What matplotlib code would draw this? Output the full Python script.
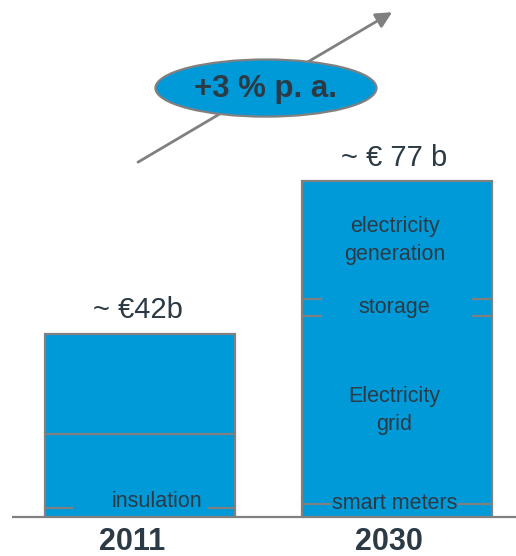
import numpy as np
import matplotlib.pyplot as plt
from matplotlib.patches import Ellipse

# --- data -------------------------------------------------------------
years = ["2011", "2030"]
total_labels = ["~ €42b", "~ € 77 b"]
seg_2011 = [2, 17, 23]          # insulation, (unlabelled), (unlabelled)
seg_2030 = [3, 43, 4, 27]       # smart meters, grid, storage, generation
labels_2030 = ["smart meters", "Electricity\ngrid", "storage", "electricity\ngeneration"]
growth_text = "+3 % p. a."

# --- style ------------------------------------------------------------
BLUE = "#009ad9"
GREY = "#808080"
INK = "#2b3a44"
plt.rcParams["font.family"] = ["Liberation Sans", "DejaVu Sans"]

fig = plt.figure(figsize=(5.16, 5.56), dpi=100)
ax = fig.add_axes([0, 39 / 556, 1, 517 / 556])
ax.set_xlim(-0.545, 1.463)
ax.set_ylim(0, 118.6)
ax.axis("off")

width = 0.74
x = np.arange(len(years))

def stacked(xi, segs):
    bottom = 0
    for v in segs:
        ax.bar(xi, v, bottom=bottom, width=width, color=BLUE, lw=0, zorder=2)
        bottom += v
    ax.bar(xi, bottom, width=width, fill=False, edgecolor=GREY, lw=1.6, zorder=4)
    return np.cumsum(segs)

def sep(xi, y, tick=None):
    left, right = xi - width / 2, xi + width / 2
    if tick is None:
        ax.hlines(y, left, right, color=GREY, lw=1.6, zorder=3)
    else:
        ax.hlines(y, left, left + tick, color=GREY, lw=1.6, zorder=3)
        ax.hlines(y, right - tick, right, color=GREY, lw=1.6, zorder=3)

# 2011
b11 = stacked(x[0], seg_2011)
sep(x[0], b11[0], tick=0.109)
sep(x[0], b11[1])
ax.text(x[0] + 0.066, b11[0] + 0.4, "insulation", ha="center", va="baseline",
        fontsize=15.5, color=INK, zorder=5)

# 2030
b30 = stacked(x[1], seg_2030)
sep(x[1], b30[0])
sep(x[1], b30[1], tick=0.078)
sep(x[1], b30[2], tick=0.078)
ax.text(x[1] - 0.01, b30[0], labels_2030[0], ha="center", va="center",
        fontsize=15.5, color=INK, zorder=5,
        bbox=dict(facecolor=BLUE, edgecolor="none", pad=0.5))
lows = np.concatenate([[0], b30[:-1]])
for lab, lo, hi in zip(labels_2030[1:], lows[1:], b30[1:]):
    ax.text(x[1] - 0.01, (lo + hi) / 2, lab, ha="center", va="center",
            fontsize=15.5, color=INK, zorder=5, linespacing=1.45)

# totals above bars
for xi, tot, lab in zip(x, [b11[-1], b30[-1]], total_labels):
    ax.text(xi - 0.01, tot + 3.6, lab, ha="center", va="baseline",
            fontsize=21, color=INK)

# baseline and year labels
ax.hlines(0, -0.498, 1.463, color=GREY, lw=1.6, zorder=5, clip_on=False)
for xi, yr in zip(x, years):
    ax.text(xi - 0.03, -7.6, yr, ha="center", va="baseline", fontsize=22,
            fontweight="bold", color=INK, clip_on=False)

# growth arrow with ellipse badge
ax.annotate("", xy=(0.981, 115.8), xytext=(-0.008, 81.4),
            arrowprops=dict(arrowstyle="-|>", color=GREY, lw=2,
                            mutation_scale=24, shrinkA=0, shrinkB=0),
            zorder=6, annotation_clip=False)
ax.add_patch(Ellipse((0.49, 98.4), 0.86, 13.1, facecolor=BLUE,
                     edgecolor=GREY, lw=1.6, zorder=7))
ax.text(0.49, 98.2, growth_text, ha="center", va="center", fontsize=22.5,
        fontweight="bold", color=INK, zorder=8)

fig.savefig("out.png", dpi=100, facecolor="white")
